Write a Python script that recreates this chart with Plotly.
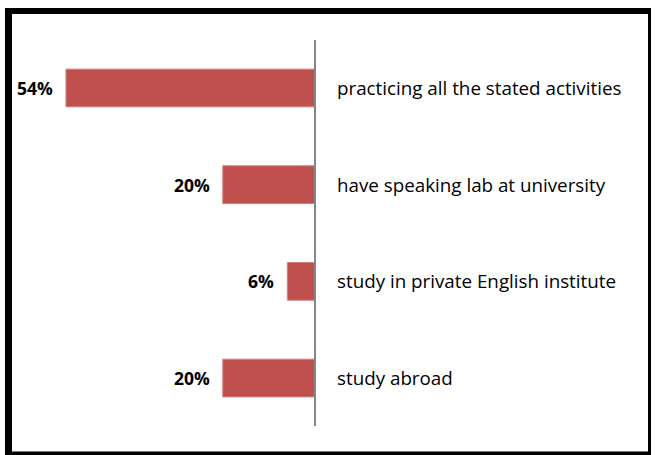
import plotly.graph_objects as go

# Survey responses, top row first
categories = [
    "practicing all the stated activities",
    "have speaking lab at university",
    "study in private English institute",
    "study abroad",
]
percentages = [54, 20, 6, 20]
value_labels = ["54%", "20%", "6%", "20%"]

BAR_COLOR = "#C0504D"
FONT = "Open Sans, sans-serif"

fig = go.Figure()

# Bars grow leftwards from the zero line
fig.add_trace(
    go.Bar(
        y=categories,
        x=[-p for p in percentages],
        orientation="h",
        width=0.39,
        marker=dict(color=BAR_COLOR, line=dict(color="#D47F7C", width=1)),
        hoverinfo="skip",
        showlegend=False,
    )
)

annotations = []
for cat, p, lab in zip(categories, percentages, value_labels):
    # bold percentage just left of each bar
    annotations.append(
        dict(
            x=-p, y=cat, xref="x", yref="y", text=f"<b>{lab}</b>",
            showarrow=False, xanchor="right", xshift=-11,
            font=dict(family=FONT, size=17.5, color="#000000"),
        )
    )
    # category name to the right of the axis
    annotations.append(
        dict(
            x=0, y=cat, xref="x", yref="y", text=cat,
            showarrow=False, xanchor="left", xshift=20,
            font=dict(family=FONT, size=18.8, color="#000000"),
        )
    )

shapes = [
    # vertical category axis at zero
    dict(type="line", xref="x", yref="paper", x0=0, x1=0,
         y0=1 - 426 / 455, y1=1 - 40 / 455,
         line=dict(color="#868686", width=2)),
    # outer frame: heavy top/left/bottom, light right
    dict(type="line", xref="paper", yref="paper", x0=5 / 655, x1=651 / 655,
         y0=1 - 11 / 455, y1=1 - 11 / 455, line=dict(color="#000000", width=6)),
    dict(type="line", xref="paper", yref="paper", x0=8.5 / 655, x1=8.5 / 655,
         y0=1 - 8 / 455, y1=0, line=dict(color="#000000", width=7)),
    dict(type="line", xref="paper", yref="paper", x0=5 / 655, x1=651 / 655,
         y0=1.5 / 455, y1=1.5 / 455, line=dict(color="#000000", width=4)),
    dict(type="line", xref="paper", yref="paper", x0=649.5 / 655, x1=649.5 / 655,
         y0=1 - 8 / 455, y1=0, line=dict(color="#000000", width=3)),
]

fig.update_layout(
    width=655,
    height=455,
    margin=dict(l=0, r=0, t=0, b=0),
    paper_bgcolor="#FFFFFF",
    plot_bgcolor="#FFFFFF",
    xaxis=dict(range=[-68.31, 73.73], visible=False, fixedrange=True),
    yaxis=dict(
        categoryorder="array",
        categoryarray=categories,
        range=[3.796, -0.910],
        visible=False,
        fixedrange=True,
    ),
    annotations=annotations,
    shapes=shapes,
)

fig.write_html("out.html")
